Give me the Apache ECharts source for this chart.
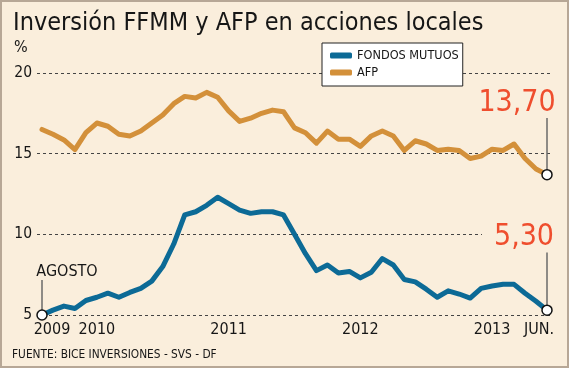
<!DOCTYPE html>
<html><head><meta charset="utf-8">
<script src="https://cdn.jsdelivr.net/npm/echarts@6/dist/echarts.min.js"></script>
<style>
html,body{margin:0;padding:0;background:#FAEEDC;}
#wrap{position:relative;width:569px;height:368px;}
#chart{width:569px;height:368px;}
#frame{position:absolute;left:0;top:0;width:569px;height:368px;box-sizing:border-box;border:2px solid #B7A796;pointer-events:none;}
</style></head><body>
<div id="wrap"><div id="chart"></div><div id="frame"></div></div>
<script>
const months = ['2009-08','2009-09','2009-10','2009-11','2009-12',
  '2010-01','2010-02','2010-03','2010-04','2010-05','2010-06','2010-07','2010-08','2010-09','2010-10','2010-11','2010-12',
  '2011-01','2011-02','2011-03','2011-04','2011-05','2011-06','2011-07','2011-08','2011-09','2011-10','2011-11','2011-12',
  '2012-01','2012-02','2012-03','2012-04','2012-05','2012-06','2012-07','2012-08','2012-09','2012-10','2012-11','2012-12',
  '2013-01','2013-02','2013-03','2013-04','2013-05','2013-06'];
const ffmm = [5.0, 5.3, 5.55, 5.4, 5.9, 6.1, 6.35, 6.1, 6.4, 6.65, 7.1, 8.0, 9.4, 11.2, 11.4, 11.8, 12.3, 11.9, 11.5, 11.3, 11.4, 11.4, 11.2, 10.0, 8.8, 7.75, 8.1, 7.6, 7.7, 7.3, 7.65, 8.5, 8.1, 7.2, 7.05, 6.6, 6.1, 6.5, 6.3, 6.05, 6.65, 6.8, 6.9, 6.9, 6.35, 5.85, 5.3];
const afp = [16.5, 16.2, 15.85, 15.25, 16.3, 16.9, 16.7, 16.2, 16.1, 16.4, 16.9, 17.4, 18.1, 18.55, 18.45, 18.8, 18.5, 17.65, 17.0, 17.2, 17.5, 17.7, 17.6, 16.6, 16.3, 15.65, 16.4, 15.9, 15.9, 15.45, 16.1, 16.4, 16.1, 15.2, 15.8, 15.6, 15.2, 15.28, 15.2, 14.7, 14.85, 15.28, 15.2, 15.6, 14.7, 14.05, 13.7];
const xTickMonths = ['2009-08','2010-01','2011-01','2012-01','2013-01','2013-06'];
const xTickLabels = ['2009','2010','2011','2012','2013','JUN.'];
const seriesNames = ['FONDOS MUTUOS','AFP'];
const endLabels = ['5,30','13,70'];
const startLabel = 'AGOSTO';
const titleText = 'Inversión FFMM y AFP en acciones locales';
const unitText = '%';
const sourceText = 'FUENTE: BICE INVERSIONES - SVS - DF';

const NARROW = "'DejaVu Sans Condensed','Liberation Sans Narrow',sans-serif";
const TITLEF = "'DejaVu Sans Condensed','DejaVu Sans',sans-serif";
const C_FF = '#0C6A96', C_AFP = '#D3903A', C_RED = '#EF4E2E', C_TXT = '#161616';
const last = months.length - 1;

const circle = {symbol:'circle', symbolSize:10, itemStyle:{color:'#fff', borderColor:'#111', borderWidth:1.5}};
function endLab(text, dist, off, pad){
  return {show:true, position:'top', distance:dist, offset:off, formatter:text,
    fontFamily:NARROW, fontSize:30, lineHeight:30, color:C_RED,
    backgroundColor:'#FAEEDC', padding:pad};
}
const ffData = ffmm.map((v,i)=>{
  if(i===0) return Object.assign({value:v, label:{show:true, position:'top', distance:29, offset:[25,0], formatter:startLabel, fontFamily:NARROW, fontSize:16, lineHeight:16, color:C_TXT}}, circle);
  if(i===last) return Object.assign({value:v, label:endLab(endLabels[0], 52, [-28,0], [0,2,0,12])}, circle);
  return v;
});
const afpData = afp.map((v,i)=>{
  if(i===last) return Object.assign({value:v, label:endLab(endLabels[1], 51, [-30,0], [0,0,0,0])}, circle);
  return v;
});

const chart = echarts.init(document.getElementById('chart'), null, {renderer:'canvas'});
const option = {
  animation:false,
  backgroundColor:'#FAEEDC',
  title:[
    {text:titleText, left:8, top:6, textStyle:{fontFamily:TITLEF, fontSize:25, fontWeight:'normal', color:C_TXT}},
    {text:unitText, left:9, top:35, textStyle:{fontFamily:NARROW, fontSize:16, fontWeight:'normal', color:C_TXT}},
    {text:sourceText, left:7, top:344, textStyle:{fontFamily:NARROW, fontSize:11.8, fontWeight:'normal', color:C_TXT}}
  ],
  legend:{orient:'vertical', left:322, top:43, backgroundColor:'#fff', borderColor:'#222', borderWidth:1,
    padding:[5,4,6,8], itemGap:2, itemWidth:22, itemHeight:6, icon:'roundRect', selectedMode:false,
    textStyle:{fontFamily:NARROW, fontSize:12.6, lineHeight:15, color:C_TXT}, data:seriesNames},
  grid:[
    {left:37, right:16, top:73, bottom:53},
    {left:42, right:22, top:73, bottom:53}
  ],
  xAxis:[
    {type:'value', gridIndex:0, min:0, max:1, show:false},
    {type:'category', gridIndex:1, data:months, boundaryGap:false,
      axisLine:{show:false}, axisTick:{show:false}, splitLine:{show:false},
      axisLabel:{interval:(i)=>xTickMonths.indexOf(months[i])>=0, margin:7,
        fontFamily:NARROW, fontSize:16, color:C_TXT,
        formatter:(val)=>{const k=xTickMonths.indexOf(val); const t=xTickLabels[k];
          if(k===0) return '{a|'+t+'}'; if(k===xTickLabels.length-1) return '{b|'+t+'}'; return t;},
        rich:{a:{fontFamily:NARROW, fontSize:16, color:C_TXT, padding:[0,0,0,20]},
              b:{fontFamily:NARROW, fontSize:16, color:C_TXT, padding:[0,16,0,0]}}}}
  ],
  yAxis:[
    {type:'value', gridIndex:0, min:5, max:20, interval:5,
      axisLine:{show:false}, axisTick:{show:false},
      axisLabel:{margin:5, fontFamily:NARROW, fontSize:15.5, color:C_TXT},
      splitLine:{show:true, lineStyle:{color:'#444', type:[3,3], width:1}}},
    {type:'value', gridIndex:1, min:5, max:20, interval:5, show:false, splitLine:{show:false}}
  ],
  series:[
    {name:seriesNames[0], type:'line', xAxisIndex:1, yAxisIndex:1, data:ffData, symbol:'none', showSymbol:true,
      color:C_FF, lineStyle:{width:5, cap:'round', join:'round', color:C_FF}, z:3},
    {name:seriesNames[1], type:'line', xAxisIndex:1, yAxisIndex:1, data:afpData, symbol:'none', showSymbol:true,
      color:C_AFP, lineStyle:{width:5, cap:'round', join:'round', color:C_AFP}, z:3}
  ]
};
chart.setOption(option);
// leader lines derived from the data points through the chart's scales
const pF0 = chart.convertToPixel({seriesIndex:0}, [0, ffmm[0]]);
const pFL = chart.convertToPixel({seriesIndex:0}, [last, ffmm[last]]);
const pAL = chart.convertToPixel({seriesIndex:1}, [last, afp[last]]);
const lead = (p, len) => ({type:'line', z:2, shape:{x1:p[0], y1:p[1]-5, x2:p[0], y2:p[1]-len}, style:{stroke:'#6a6a6a', lineWidth:1.5}});
chart.setOption({graphic:[lead(pF0,35), lead(pFL,60), lead(pAL,57)]});
</script></body></html>
